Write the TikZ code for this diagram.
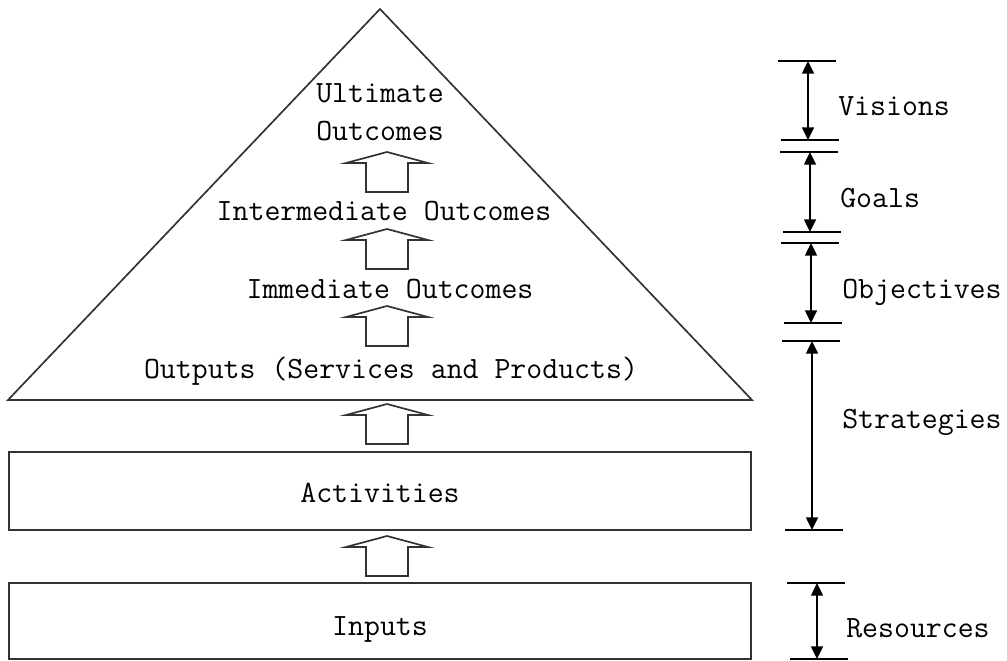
\documentclass[tikz,border=0pt]{standalone}
\usepackage{fontspec}
\usetikzlibrary{arrows.meta,positioning}
\newcommand{\tikzuparrow}[3]{\coordinate (#1) at (#2,#3); \draw[blockarrow] (#1) -- ++(41,11) -- ++(-20,0) -- ++(0,29) -- ++(-42,0) -- ++(0,-29) -- ++(-20,0) -- cycle;}
\newcommand{\tikzspan}[6]{\coordinate (#1t) at (#2,#3); \coordinate (#1b) at (#2,#4);
  \draw[tickline] ([xshift=-21]#1t) -- ([xshift=20]#1t); \draw[tickline] ([xshift=-19]#1b) -- ([xshift=22]#1b);
  \draw[spanarrow] (#1t) -- (#1b); \node[sidelabel, anchor=base west] (#1l) at (#5) {#6};}
\tikzset{
  outline/.style={draw=black!80, line width=1.2pt, fill=white},
  blockarrow/.style={draw=black!80, line width=1.2pt, fill=white, line join=miter},
  tickline/.style={draw=black, line width=1.2pt},
  spanarrow/.style={{Triangle[length=9pt,width=8.5pt]}-{Triangle[length=9pt,width=8.5pt]}, line width=1.1pt},
  sidelabel/.style={font=\ttfamily\fontsize{22}{27}\selectfont, inner sep=0pt},
  level/.style={font=\ttfamily\fontsize{22}{27}\selectfont, inner sep=0pt, anchor=base, align=center}
}
\begin{document}
\begin{tikzpicture}[x=0.025cm, y=-0.025cm]
  \useasboundingbox (0,0) rectangle (1007,660);
  % pyramid and boxes
  \draw[outline] (380,9) -- (752,400) -- (8,400) -- cycle;
  \node[outline, minimum width=742*0.025cm, minimum height=78*0.025cm, inner sep=0pt] (act) at (380,491) {};
  \node[outline, minimum width=742*0.025cm, minimum height=76*0.025cm, inner sep=0pt] (inp) at (380,621) {};
  % levels
  \node[level] (ult) at (380,140) {Ultimate\\Outcomes};
  \node[level] (inter) at (384,220) {Intermediate Outcomes};
  \node[level] (imm) at (390,298) {Immediate Outcomes};
  \node[level] (out) at (391,378) {Outputs (Services and Products)};
  \node[level] at (380,502) {Activities};
  \node[level] at (380,635) {Inputs};
  % block arrows
  \tikzuparrow{a1}{387}{152}
  \tikzuparrow{a2}{387}{229}
  \tikzuparrow{a3}{387}{306}
  \tikzuparrow{a4}{387}{404}
  \tikzuparrow{a5}{387}{536}
  % spans on the right
  \tikzspan{vis}{808}{61}{140}{838,115}{Visions}
  \tikzspan{goa}{810}{152}{232}{840,207}{Goals}
  \tikzspan{obj}{811}{243}{323}{842,298}{Objectives}
  \tikzspan{str}{812}{341}{530}{842,428}{Strategies}
  \tikzspan{res}{817}{583}{659}{846,637}{Resources}
\end{tikzpicture}
\end{document}
